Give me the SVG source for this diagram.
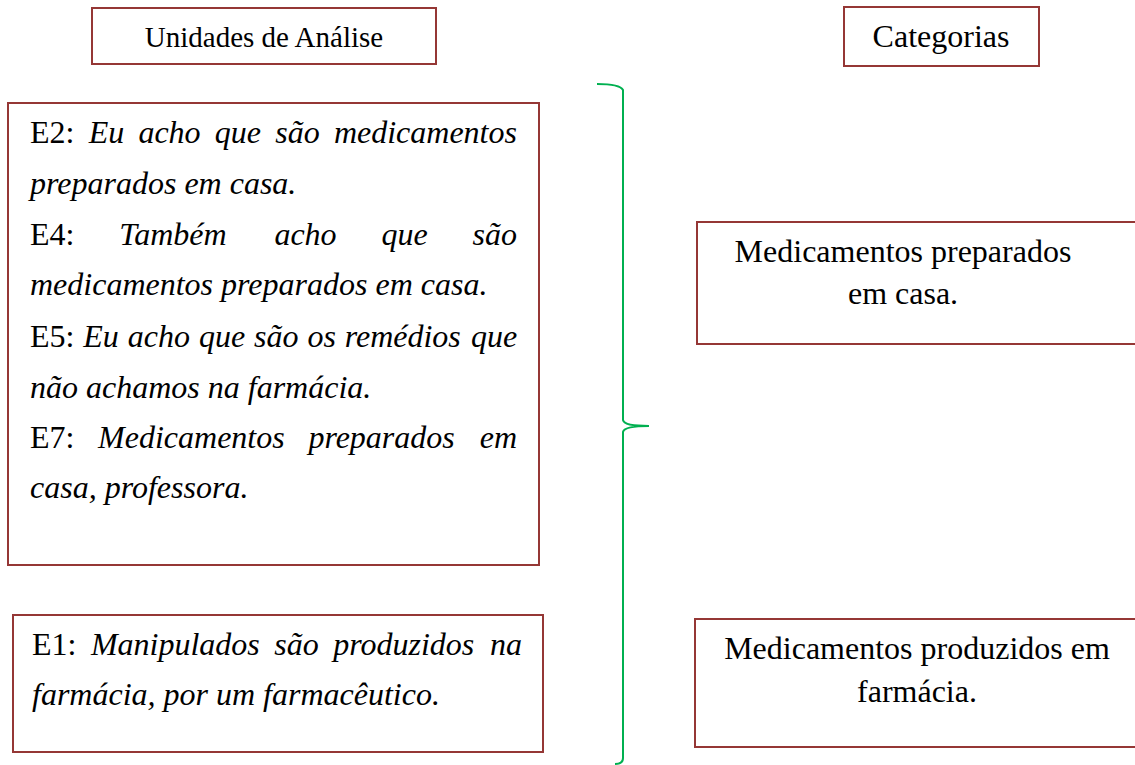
<svg xmlns="http://www.w3.org/2000/svg" width="1135" height="765" viewBox="0 0 1135 765">
<style>
.box{fill:#ffffff;stroke:#953735;stroke-width:2}
text{font-family:"Liberation Serif","Times New Roman",serif;font-size:32px;fill:#000000}
.i{font-style:italic}
.c{text-anchor:middle}
.t{font-size:29px}
.brace{fill:none;stroke:#00B050;stroke-width:2}
</style>
<rect width="1135" height="765" fill="#ffffff"/>
<g id="titulo-unidades">
<rect class="box" x="92" y="8" width="344" height="56"/>
<text class="c t" x="264" y="47">Unidades de Análise</text>
</g>
<g id="titulo-categorias">
<rect class="box" x="844" y="7" width="195" height="59"/>
<text class="c" x="941" y="47">Categorias</text>
</g>
<g id="unidades-casa">
<rect class="box" x="8" y="103" width="531" height="462"/>
<text y="143"><tspan x="30">E2:</tspan><tspan class="i" x="88.7">Eu</tspan><tspan class="i" x="138.4">acho</tspan><tspan class="i" x="214.8">que</tspan><tspan class="i" x="275.2">são</tspan><tspan class="i" x="333.9">medicamentos</tspan></text>
<text class="i" x="30" y="194">preparados em casa.</text>
<text y="245"><tspan x="30">E4:</tspan><tspan class="i" x="119.3">Também</tspan><tspan class="i" x="274.4">acho</tspan><tspan class="i" x="381.5">que</tspan><tspan class="i" x="472.6">são</tspan></text>
<text class="i" x="30" y="295">medicamentos preparados em casa.</text>
<text y="347"><tspan x="30">E5:</tspan><tspan class="i" x="83.3">Eu</tspan><tspan class="i" x="127.8">acho</tspan><tspan class="i" x="198.9">que</tspan><tspan class="i" x="254">são</tspan><tspan class="i" x="307.4">os</tspan><tspan class="i" x="344.7">remédios</tspan><tspan class="i" x="470.9">que</tspan></text>
<text class="i" x="30" y="398">não achamos na farmácia.</text>
<text y="448"><tspan x="30">E7:</tspan><tspan class="i" x="98.1">Medicamentos</tspan><tspan class="i" x="308.4">preparados</tspan><tspan class="i" x="479.7">em</tspan></text>
<text class="i" x="30" y="498">casa, professora.</text>
</g>
<g id="unidades-farmacia">
<rect class="box" x="13" y="615" width="530" height="137"/>
<text y="655"><tspan x="32">E1:</tspan><tspan class="i" x="90.9">Manipulados</tspan><tspan class="i" x="274.3">são</tspan><tspan class="i" x="333.2">produzidos</tspan><tspan class="i" x="490">na</tspan></text>
<text class="i" x="32" y="705">farmácia, por um farmacêutico.</text>
</g>
<g id="categoria-casa">
<rect class="box" x="697" y="222" width="460" height="122"/>
<text class="c" x="903" y="262">Medicamentos preparados</text>
<text class="c" x="903" y="304">em casa.</text>
</g>
<g id="categoria-farmacia">
<rect class="box" x="695" y="619" width="460" height="128"/>
<text class="c" x="917" y="659">Medicamentos produzidos em</text>
<text class="c" x="917" y="702">farmácia.</text>
</g>
<g id="connectors">
<path class="brace" d="M597,84 Q620,84 623,90 L623,420 Q624,426 649,426 Q624,426 623,432 L623,758 Q623,764 615,764"/>
</g>
</svg>
